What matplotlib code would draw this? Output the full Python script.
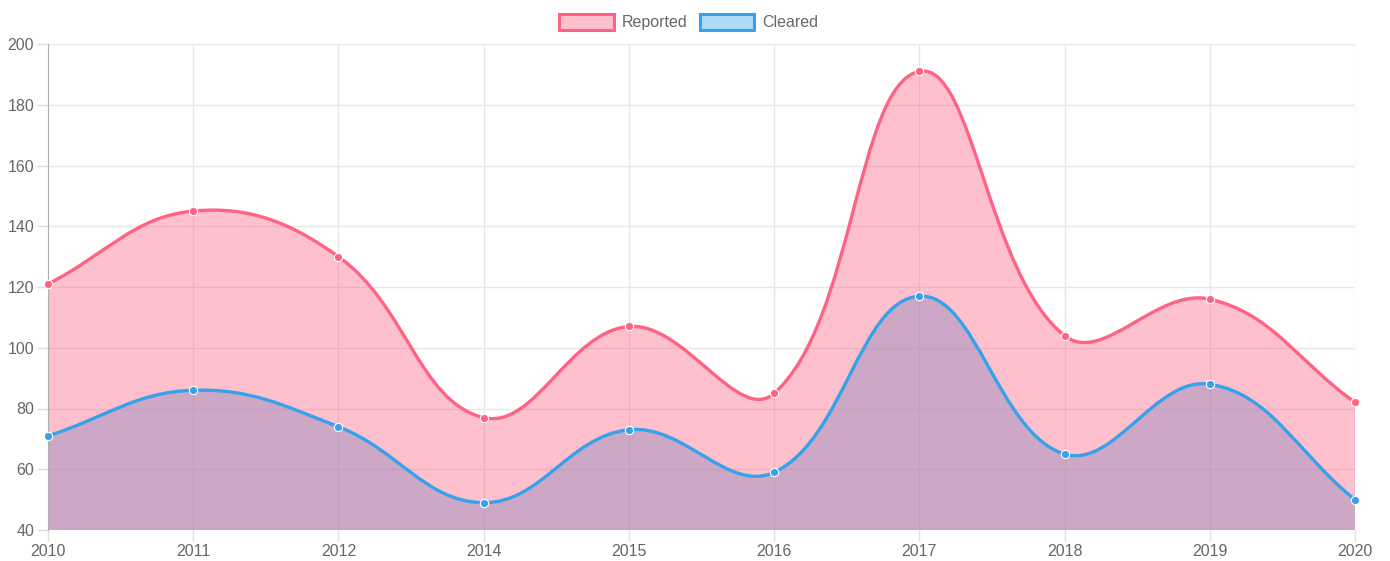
import matplotlib
matplotlib.use("Agg")
import matplotlib.pyplot as plt
import numpy as np
from matplotlib.path import Path
from matplotlib.patches import PathPatch, Patch

years = ["2010", "2011", "2012", "2014", "2015", "2016", "2017", "2018", "2019", "2020"]
reported = [121, 145, 130, 77, 107, 85, 191, 104, 116, 82]
cleared = [71, 86, 74, 49, 73, 59, 117, 65, 88, 50]

plt.rcParams["font.family"] = ["Liberation Sans", "DejaVu Sans"]

fig = plt.figure(figsize=(13.9, 5.61), dpi=100)
ax = fig.add_axes([48 / 1390, 1 - 530 / 561, (1355 - 48) / 1390, (530 - 44) / 561])
ymin, ymax = 40, 200
ax.set_xlim(0, len(years) - 1)
ax.set_ylim(ymin, ymax)

bbox = ax.get_window_extent()
sx = bbox.width / (len(years) - 1)
sy = bbox.height / (ymax - ymin)


def spline_path(values, tension=0.4):
    # chart.js style cardinal spline, computed in pixel space
    pts = np.array([[i * sx, v * sy] for i, v in enumerate(values)])
    n = len(pts)
    cps = []
    for i in range(n):
        prev = pts[max(i - 1, 0)]
        cur = pts[i]
        nxt = pts[min(i + 1, n - 1)]
        d01 = np.hypot(*(cur - prev))
        d12 = np.hypot(*(nxt - cur))
        tot = d01 + d12
        s01 = d01 / tot if tot else 0
        s12 = d12 / tot if tot else 0
        fa, fb = tension * s01, tension * s12
        c_prev = cur - fa * (nxt - prev)
        c_next = cur + fb * (nxt - prev)
        cps.append((c_prev, c_next))
    verts = [pts[0]]
    codes = [Path.MOVETO]
    for i in range(1, n):
        verts += [cps[i - 1][1], cps[i][0], pts[i]]
        codes += [Path.CURVE4] * 3
    verts = np.array(verts)
    verts[:, 0] /= sx
    verts[:, 1] /= sy
    verts[:, 1] = np.clip(verts[:, 1], ymin, ymax)
    return verts, codes


def draw_series(values, fill_color, fill_alpha):
    verts, codes = spline_path(values)
    fv = np.vstack([verts, [[len(values) - 1, ymin], [0, ymin], verts[0]]])
    fc = codes + [Path.LINETO, Path.LINETO, Path.CLOSEPOLY]
    ax.add_patch(PathPatch(Path(fv, fc), facecolor=fill_color, alpha=fill_alpha,
                           edgecolor="none", zorder=2))
    return verts, codes


rv, rc = draw_series(reported, "#ff6384", 0.4)
cv, cc = draw_series(cleared, "#9b8fc0", 0.5)
ax.add_patch(PathPatch(Path(rv, rc), facecolor="none", edgecolor="#ff6384",
                       lw=2.4, zorder=4))
ax.add_patch(PathPatch(Path(cv, cc), facecolor="none", edgecolor="#36a2eb",
                       lw=2.4, zorder=4))
x = np.arange(len(years))
ax.plot(x, reported, "o", color="#ff6384", mec="white", mew=0.8, ms=6,
        zorder=5, clip_on=False)
ax.plot(x, cleared, "o", color="#36a2eb", mec="white", mew=0.8, ms=6,
        zorder=5, clip_on=False)

ax.set_xticks(x)
ax.set_xticklabels(years)
ax.set_yticks(np.arange(40, 201, 20))
ax.grid(True, color="#e6e6e6", lw=1, zorder=0)
ax.set_axisbelow(True)
for s in ["top", "right", "bottom"]:
    ax.spines[s].set_visible(False)
ax.spines["left"].set_color("#b0b0b0")
ax.tick_params(axis="both", colors="#e0e0e0", labelcolor="#666666",
               labelsize=11.5, length=8, width=1)
ax.tick_params(axis="y", pad=2)
ax.tick_params(axis="x", pad=2)

handles = [Patch(facecolor="#ffc1ce", edgecolor="#ff6384", lw=2.2, label="Reported"),
           Patch(facecolor="#afdaf7", edgecolor="#36a2eb", lw=2.2, label="Cleared")]
fig.legend(handles=handles, loc="upper center", bbox_to_anchor=(0.4956, 1.0),
           ncol=2, frameon=False, fontsize=11.5, handlelength=3.4, handleheight=1.1,
           handletextpad=0.5, columnspacing=0.8, labelcolor="#666666")

fig.savefig("out.png", dpi=100)
